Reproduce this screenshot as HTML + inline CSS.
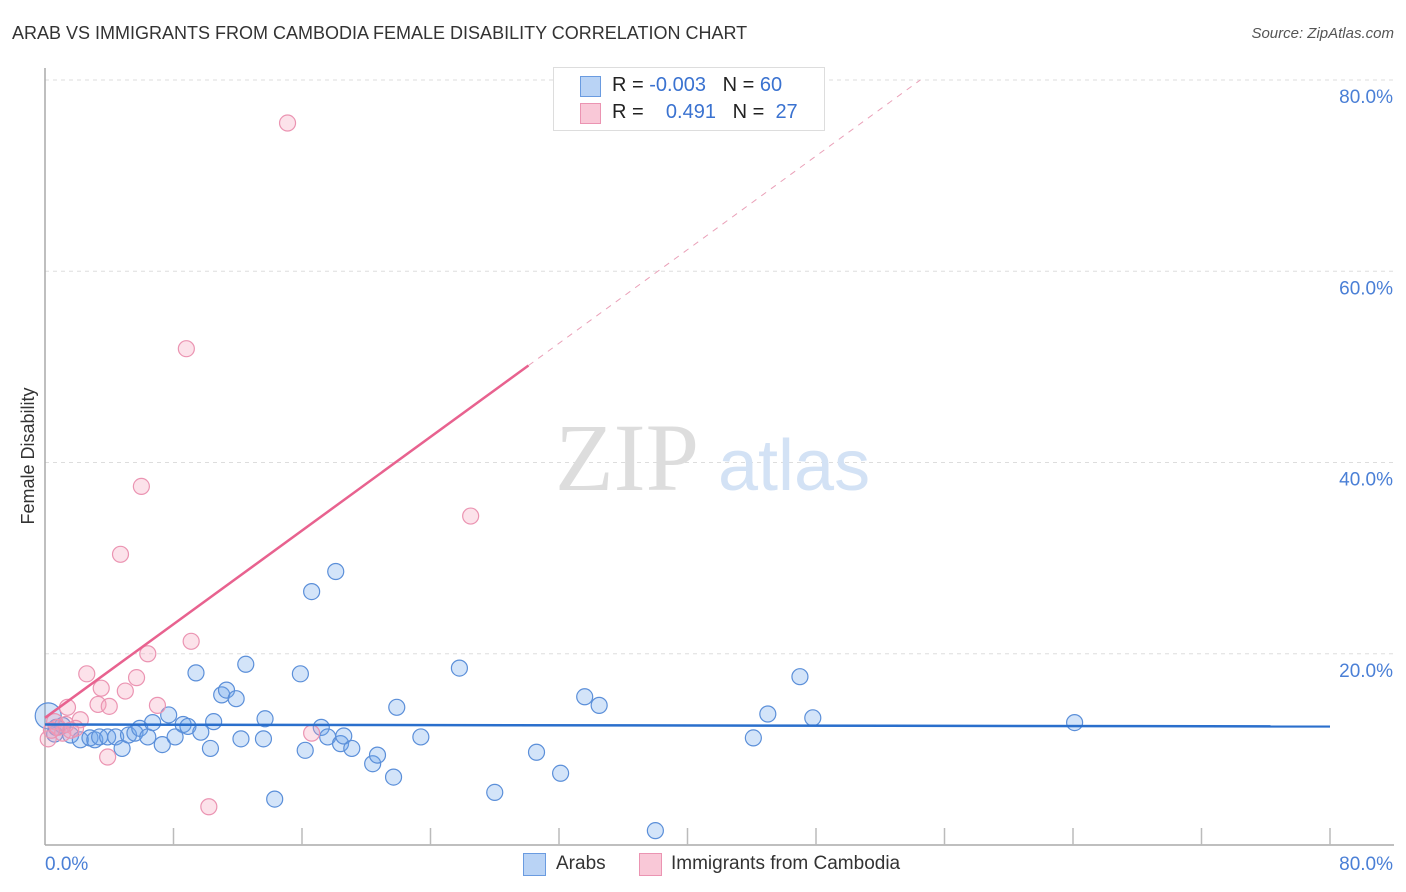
<!DOCTYPE html>
<html><head><meta charset="utf-8">
<style>
body{margin:0;background:#fff;font-family:"Liberation Sans",sans-serif;}
#wrap{position:relative;width:1406px;height:892px;overflow:hidden;}
.t{position:absolute;white-space:nowrap;}
</style></head>
<body>
<div id="wrap">
<div class="t" style="left:12px;top:23px;font-size:18px;color:#333;">ARAB VS IMMIGRANTS FROM CAMBODIA FEMALE DISABILITY CORRELATION CHART</div>
<div class="t" style="right:12px;top:25px;font-size:15px;color:#555;font-style:italic;">Source: ZipAtlas.com</div>
<svg id="svg" width="1406" height="892" style="position:absolute;left:0;top:0"></svg>
</div>
<script>
const blueX=[0.2,0.6,1.1,1.6,2.2,2.8,3.1,3.4,3.9,4.4,4.8,5.2,5.6,5.9,6.4,6.7,7.3,7.7,8.1,8.6,8.9,9.4,9.7,10.3,10.5,11,11.3,11.9,12.2,12.5,13.6,13.7,14.3,15.9,16.2,16.6,17.2,17.6,18.1,18.4,18.6,19.1,20.4,20.7,21.7,21.9,23.4,25.8,28,30.6,32.1,33.6,34.5,38,44.1,45,47,47.8,64.1,0.7];
const blueY=[13.5,11.6,12.5,11.5,11,11.2,11,11.3,11.3,11.3,10.1,11.5,11.7,12.2,11.3,12.8,10.5,13.6,11.3,12.6,12.4,18,11.8,10.1,12.9,15.7,16.2,15.3,11.1,18.9,11.1,13.2,4.8,17.9,9.9,26.5,12.3,11.3,28.6,10.6,11.4,10.1,8.5,9.4,7.1,14.4,11.3,18.5,5.5,9.7,7.5,15.5,14.6,1.5,11.2,13.7,17.6,13.3,12.8,12.3];
const pinkX=[15.1,8.8,6,4.7,26.5,9.1,6.4,2.6,5.7,3.5,5.0,3.3,4.0,7.0,1.4,0.6,2.2,1.9,0.2,0.8,1.1,3.9,10.2,16.6,0.4,1.3,1.6];
const pinkY=[75.5,51.9,37.5,30.4,34.4,21.3,20.0,17.9,17.5,16.4,16.1,14.7,14.5,14.6,14.4,12.9,13.1,12.2,11.1,12.3,11.7,9.2,4,11.7,12,12.6,12];
const blueTrend=[12.6,12.4];
const pinkTrend=[13.3,1.224];
const yTicks=[20,40,60,80];
const xTickLabels=["0.0%","80.0%"];
const L=45,R=1330,T=80,B=845;
const sx=v=>L+(v/80)*(R-L);
const sy=v=>B-(v/80)*(B-T);
const svg=document.getElementById('svg');
const NS='http://www.w3.org/2000/svg';
function mk(tag,attrs){const e=document.createElementNS(NS,tag);for(const k in attrs)e.setAttribute(k,attrs[k]);svg.appendChild(e);return e;}
// gridlines
yTicks.forEach(v=>{
  const g=mk('line',{x1:L,x2:1394,y1:sy(v),y2:sy(v),stroke:'#ddd','stroke-dasharray':'4,4'});
  
  
  const t=mk('text',{x:1393,y:sy(v)+23,'text-anchor':'end','font-size':19,fill:'#4a7fd6','font-family':'Liberation Sans'});
  t.textContent=v.toFixed(1)+'%';
  
  
});
// axes
const ax=mk('line',{x1:L,x2:L,y1:68,y2:B,stroke:'#aaa','stroke-width':1.5});


const axx=mk('line',{x1:L,x2:1394,y1:B,y2:B,stroke:'#aaa','stroke-width':1.5});


for(let i=1;i<=10;i++){
  const tk=mk('line',{x1:sx(i*8),x2:sx(i*8),y1:828,y2:B,stroke:'#bbb','stroke-width':1.5});
  
  
}
[[0,'start',45],[80,'end',1393]].forEach((d,i)=>{
  const t=mk('text',{x:d[2],y:870,'text-anchor':d[1],'font-size':19,fill:'#4a7fd6','font-family':'Liberation Sans'});
  t.textContent=xTickLabels[i];
  
  
});
// watermark
const w1=mk('text',{x:555,y:490,'font-size':96,fill:'#ddd','font-family':'Liberation Serif'});w1.textContent='ZIP';


const w2=mk('text',{x:718,y:490,'font-size':72,fill:'#d3e2f5','font-family':'Liberation Sans'});w2.textContent='atlas';


// points
blueX.forEach((x,i)=>{
  const c=mk('circle',{cx:sx(x),cy:sy(blueY[i]),r:i==0?13:8,fill:'rgba(110,165,235,0.3)',stroke:'#5b8fd9','stroke-width':1.2});
  
  
});
pinkX.forEach((x,i)=>{
  const c=mk('circle',{cx:sx(x),cy:sy(pinkY[i]),r:8,fill:'rgba(245,160,185,0.3)',stroke:'#eb94b2','stroke-width':1.2});
  
  
});
// trends
const bl=mk('line',{x1:sx(0),y1:sy(blueTrend[0]),x2:sx(80),y2:sy(blueTrend[1]),stroke:'#2a6fcc','stroke-width':2.5});


const xs=30.1, xe=(80-pinkTrend[0])/pinkTrend[1];
const pl=mk('line',{x1:sx(0),y1:sy(pinkTrend[0]),x2:sx(xs),y2:sy(pinkTrend[0]+pinkTrend[1]*xs),stroke:'#e8628f','stroke-width':2.5});


const pd=mk('line',{x1:sx(xs),y1:sy(pinkTrend[0]+pinkTrend[1]*xs),x2:sx(xe),y2:sy(80),stroke:'#eaa0b8','stroke-width':1,'stroke-dasharray':'6,6'});


// y axis title
const yt=mk('text',{x:34,y:456,'text-anchor':'middle','font-size':18,fill:'#333','font-family':'Liberation Sans',transform:'rotate(-90 34 456)'});
yt.textContent='Female Disability';


</script>
<div class="t" style="left:553px;top:67px;width:270px;height:62px;border:1px solid #ddd;background:#fff;font-size:20px;">
 <div class="t" style="left:26px;top:8px;width:19px;height:19px;background:#b9d3f5;border:1px solid #6a9be0;"></div>
 <div class="t" style="left:58px;top:6px;color:#222;">R = <span style="color:#3a72d0">-0.003</span>&nbsp;&nbsp;&nbsp;N = <span style="color:#3a72d0">60</span></div>
 <div class="t" style="left:26px;top:35px;width:19px;height:19px;background:#f9c8d7;border:1px solid #eb94b2;"></div>
 <div class="t" style="left:58px;top:33px;color:#222;">R = &nbsp;&nbsp;&nbsp;<span style="color:#3a72d0">0.491</span>&nbsp;&nbsp;&nbsp;N = &nbsp;<span style="color:#3a72d0">27</span></div>
</div>
<div class="t" style="left:523px;top:853px;width:21px;height:21px;background:#b9d3f5;border:1px solid #6a9be0;"></div>
<div class="t" style="left:556px;top:853px;font-size:19px;color:#333;">Arabs</div>
<div class="t" style="left:639px;top:853px;width:21px;height:21px;background:#f9c8d7;border:1px solid #eb94b2;"></div>
<div class="t" style="left:671px;top:853px;font-size:19px;color:#333;">Immigrants from Cambodia</div>
</body></html>
